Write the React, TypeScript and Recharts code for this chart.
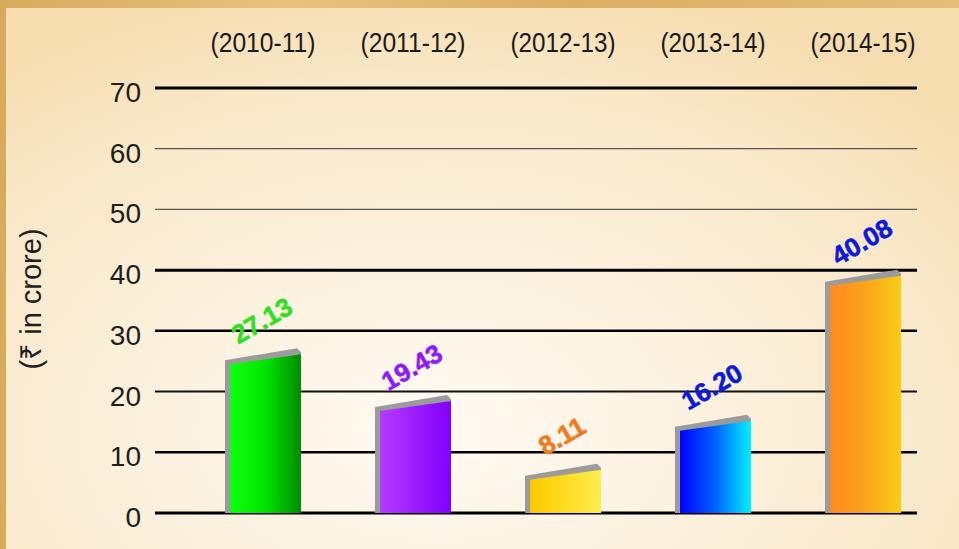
import React from 'react';
import { BarChart, Bar, XAxis, YAxis, CartesianGrid, LabelList } from 'recharts';

const years = ['(2010-11)', '(2011-12)', '(2012-13)', '(2013-14)', '(2014-15)'];
const amounts = [27.13, 19.43, 8.11, 16.2, 40.08];
const amountLabels = ['27.13', '19.43', '8.11', '16.20', '40.08'];
const yTicks = [0, 10, 20, 30, 40, 50, 60, 70];

const data = years.map((year, i) => ({ year, amount: amounts[i], label: amountLabels[i] }));

const barGradients = [
  ['#10ff10', '#00e400', '#008c00'],
  ['#b43cff', '#9d1cff', '#8200ff'],
  ['#ffc800', '#ffdc20', '#ffee50'],
  ['#0000ff', '#0064ff', '#00f0ff'],
  ['#ff8a20', '#fba41c', '#f8cc14'],
];
const labelColors = ['#2fe01f', '#8c1cff', '#f07a20', '#0a18e0', '#0a18e0'];
const gridStyle: Record<number, { w: number; c: string }> = {
  0: { w: 3, c: '#000' },
  10: { w: 2.5, c: '#000' },
  20: { w: 2, c: '#111' },
  30: { w: 2.5, c: '#000' },
  40: { w: 3, c: '#000' },
  50: { w: 1.2, c: '#555' },
  60: { w: 1.2, c: '#555' },
  70: { w: 3, c: '#000' },
};

const FONT = '"Liberation Sans", Arial, Helvetica, sans-serif';

const BarShape = (props: any) => {
  const { x, y, width, height, payload } = props;
  const i = years.indexOf(payload.year);
  const bottom = y + height;
  const s = 12;
  const e = 5;
  const gray = `${x},${bottom} ${x},${y + s} ${x + width - 4},${y} ${x + width},${y + 4} ${x + width},${bottom}`;
  const face = `${x + e},${bottom} ${x + e},${y + s + e - 1} ${x + width},${y + e + 1} ${x + width},${bottom}`;
  return (
    <g>
      <polygon points={gray} fill="#9b9b9b" />
      <polygon points={face} fill={`url(#barGrad${i})`} />
    </g>
  );
};

const ValueLabel = (props: any) => {
  const { x, y, width, value, index } = props;
  const cx = x + width / 2;
  const cy = y - 26;
  return (
    <text
      x={cx}
      y={cy}
      textAnchor="middle"
      dominantBaseline="middle"
      transform={`rotate(-30, ${cx}, ${cy})`}
      fontFamily={FONT}
      fontWeight="bold"
      fontSize={26}
      fill={labelColors[index]}
      stroke={labelColors[index]}
      strokeWidth={0.6}
    >
      {value}
    </text>
  );
};

const TopTick = (props: any) => {
  const { x, payload } = props;
  return (
    <text
      x={x}
      y={52}
      textAnchor="middle"
      fontFamily={FONT}
      fontSize={27}
      fill="#1a1a1a"
      textLength={105}
      lengthAdjust="spacingAndGlyphs"
    >
      {payload.value}
    </text>
  );
};

const LeftTick = (props: any) => {
  const { y, payload } = props;
  return (
    <text x={141} y={y + 14} textAnchor="end" fontFamily={FONT} fontSize={28} fill="#1e1e1e">
      {payload.value}
    </text>
  );
};

const GridLine = (props: any) => {
  const { x1, x2, y1, index } = props;
  const v = yTicks[index];
  const st = gridStyle[v] || { w: 2, c: '#000' };
  return <line key={`g${index}`} x1={x1} x2={x2} y1={y1} y2={y1} stroke={st.c} strokeWidth={st.w} />;
};

export default function App() {
  return (
    <div
      style={{
        position: 'absolute',
        left: 0,
        top: 0,
        width: 959,
        height: 549,
        background: 'linear-gradient(90deg, #d9aa5c, #e8c27e 30%, #dcae62 60%, #e6bd76)',
        overflow: 'hidden',
      }}
    >
      <div
        style={{
          position: 'absolute',
          left: 6,
          top: 8,
          right: 0,
          bottom: 0,
          background:
            'radial-gradient(ellipse 75% 85% at 45% 78%, #fffaf3 0%, #fcf1de 40%, #f9e8c8 75%, #f6ddb0 100%)',
        }}
      />
      <div style={{ position: 'absolute', left: 0, top: 0 }}>
        <BarChart
          width={959}
          height={549}
          data={data}
          margin={{ top: 0, right: 42, bottom: 36, left: 0 }}
          barCategoryGap={0}
        >
          <defs>
            {barGradients.map((g, i) => (
              <linearGradient key={i} id={`barGrad${i}`} x1="0" y1="0" x2="1" y2="0">
                <stop offset="0%" stopColor={g[0]} />
                <stop offset="50%" stopColor={g[1]} />
                <stop offset="100%" stopColor={g[2]} />
              </linearGradient>
            ))}
          </defs>
          <CartesianGrid vertical={false} horizontal={GridLine} horizontalValues={yTicks} />
          <XAxis
            dataKey="year"
            orientation="top"
            height={88}
            axisLine={false}
            tickLine={false}
            tick={TopTick}
            padding={{ left: 33, right: -21 }}
            interval={0}
          />
          <YAxis
            width={155}
            domain={[0, 70]}
            ticks={yTicks}
            axisLine={false}
            tickLine={false}
            tick={LeftTick}
            label={{
              value: '(₹ in crore)',
              angle: -90,
              position: 'insideLeft',
              content: () => (
                <text
                  x={33}
                  y={299}
                  textAnchor="middle"
                  dominantBaseline="middle"
                  transform="rotate(-90, 33, 299)"
                  fontFamily={FONT}
                  fontSize={29}
                  fill="#1e1e1e"
                >
                  (₹ in crore)
                </text>
              ),
            }}
          />
          <Bar dataKey="amount" barSize={76} shape={BarShape} isAnimationActive={false}>
            <LabelList dataKey="label" content={ValueLabel} />
          </Bar>
        </BarChart>
      </div>
    </div>
  );
}
